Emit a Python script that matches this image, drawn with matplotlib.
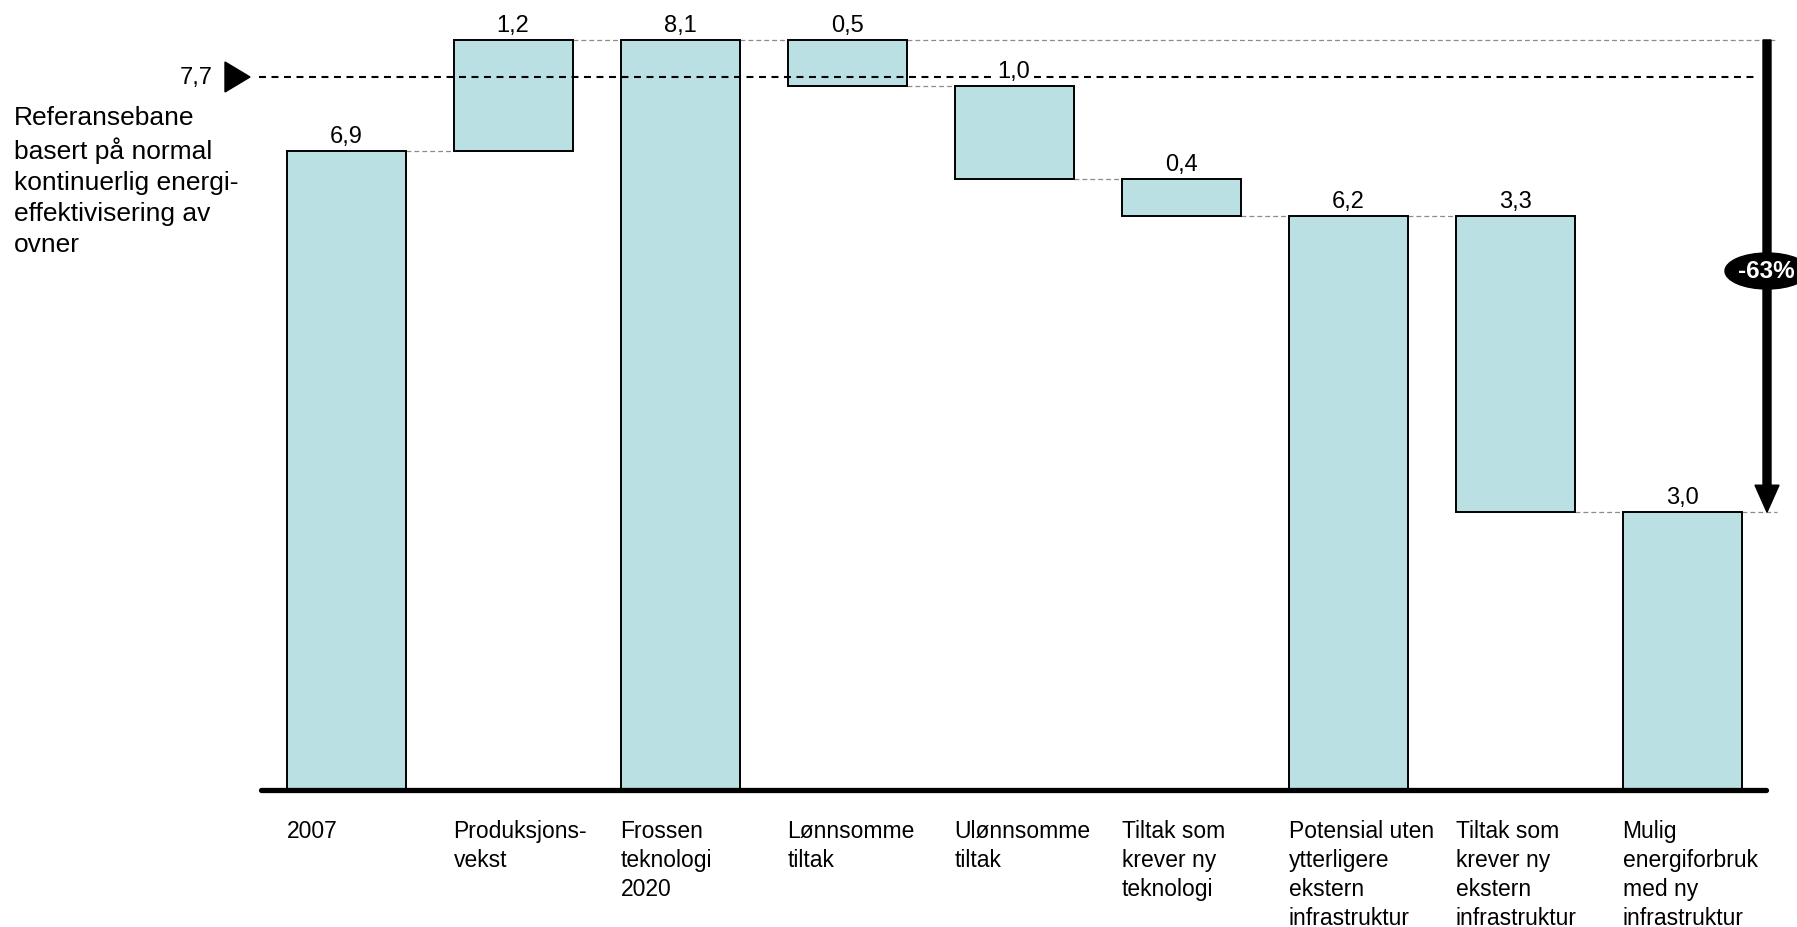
import matplotlib
matplotlib.use("Agg")
import matplotlib.pyplot as plt
from matplotlib import font_manager
from matplotlib.patches import Rectangle, Ellipse, Polygon, FancyArrow

# ---------------- data ----------------
categories = ["2007", "Produksjons-\nvekst", "Frossen\nteknologi\n2020", "Lønnsomme\ntiltak",
              "Ulønnsomme\ntiltak", "Tiltak som\nkrever ny\nteknologi",
              "Potensial uten\nytterligere\nekstern\ninfrastruktur",
              "Tiltak som\nkrever ny\nekstern\ninfrastruktur",
              "Mulig\nenergiforbruk\nmed ny\ninfrastruktur"]
values = [6.9, 1.2, 8.1, 0.5, 1.0, 0.4, 6.2, 3.3, 3.0]
kinds = ["total", "up", "total", "down", "down", "down", "total", "down", "total"]
value_labels = ["6,9", "1,2", "8,1", "0,5", "1,0", "0,4", "6,2", "3,3", "3,0"]
reference_value = 7.7
reference_label = "7,7"
reference_text = "Referansebane\nbasert på normal\nkontinuerlig energi-\neffektivisering av\novner"
change_label = "-63%"

# ---------------- fonts ----------------
names = {f.name for f in font_manager.fontManager.ttflist}
main_font = "Liberation Sans" if "Liberation Sans" in names else "DejaVu Sans"
plt.rcParams["font.family"] = [main_font, "DejaVu Sans"]
plt.rcParams["lines.scale_dashes"] = False

W, H = 1797, 928
fig = plt.figure(figsize=(W / 100, H / 100), dpi=100)
ax = fig.add_axes([0, 0, 1, 1])
ax.set_axis_off()

# pixel layout mapping
x0_px, dx_px = 346, 167
base_px, unit_px = 791, 92.6
ax.set_xlim(-x0_px / dx_px, (W - x0_px) / dx_px)
ax.set_ylim((base_px - H) / unit_px, base_px / unit_px)

bar_w = 119 / dx_px
fill = "#bbe0e3"

# compute bar spans
spans = []
level = 0.0
for i, (v, k) in enumerate(zip(values, kinds)):
    if k == "total":
        lo, hi = 0.0, v
        level = v
    elif k == "up":
        lo, hi = level, level + v
        level = level + v
        if i + 1 < len(kinds) and kinds[i + 1] == "total":
            hi = values[i + 1]; level = hi
    else:
        new = level - v
        if i + 1 < len(kinds) and kinds[i + 1] == "total":
            new = values[i + 1]
        lo, hi = new, level
        level = new
    spans.append((lo, hi, level))

# bars
for i, (lo, hi, end) in enumerate(spans):
    ax.add_patch(Rectangle((i - bar_w / 2, lo), bar_w, hi - lo, facecolor=fill,
                           edgecolor="black", linewidth=1.4, zorder=3))

# grey connectors
grey = "#8c8c8c"
for i in range(len(spans) - 1):
    end = spans[i][2]
    ax.plot([i + bar_w / 2, i + 1 - bar_w / 2], [end, end], color=grey, lw=0.9,
            dashes=(3.5, 2.2), zorder=2)

arrow_x = (1767 - x0_px) / dx_px
line_end = (1777 - x0_px) / dx_px
top_val = max(hi for lo, hi, e in spans)
final_val = values[-1]
ax.plot([3 + bar_w / 2, line_end], [top_val, top_val], color=grey, lw=0.9, dashes=(3.5, 2.2), zorder=2)
ax.plot([len(values) - 1 + bar_w / 2, line_end], [final_val, final_val], color=grey, lw=0.9,
        dashes=(3.5, 2.2), zorder=2)

# value labels
for i, (lo, hi, end) in enumerate(spans):
    ax.text(i, hi + 9 / unit_px, value_labels[i], ha="center", va="baseline", fontsize=17,
            zorder=6, bbox=dict(facecolor="white", edgecolor="none", pad=1.0))

# reference dashed line
ax.plot([(259 - x0_px) / dx_px, (1759 - x0_px) / dx_px], [reference_value, reference_value],
        color="black", lw=1.5, dashes=(5, 4), zorder=5)
tri_l, tri_r = (225 - x0_px) / dx_px, (250 - x0_px) / dx_px
tri_h = 15 / unit_px
ax.add_patch(Polygon([[tri_l, reference_value + tri_h], [tri_r, reference_value],
                      [tri_l, reference_value - tri_h]], closed=True, facecolor="black",
                     edgecolor="black", zorder=5))
ax.text((213 - x0_px) / dx_px, reference_value, reference_label, ha="right", va="center", fontsize=17)
ax.text((14 - x0_px) / dx_px, (base_px - 106) / unit_px, reference_text, ha="left", va="top",
        fontsize=19, linespacing=1.36)

# x axis line
ax.plot([(261 - x0_px) / dx_px, (1766 - x0_px) / dx_px], [0, 0], color="black", lw=3.8,
        solid_capstyle="round", zorder=4)

# category labels
for i, c in enumerate(categories):
    ax.text(i - bar_w / 2, (base_px - 820) / unit_px, c, ha="left", va="top",
            fontsize=16.5, linespacing=1.33)

# big arrow
head_len = 27 / unit_px
ax.add_patch(FancyArrow(arrow_x, top_val, 0, final_val - top_val, width=8 / dx_px,
                        head_width=24 / dx_px, head_length=head_len, length_includes_head=True,
                        color="black", zorder=6))
ell_y = (base_px - 272) / unit_px
ax.add_patch(Ellipse((arrow_x, ell_y), 84 / dx_px, 36 / unit_px, facecolor="black",
                     edgecolor="black", zorder=7))
ax.text(arrow_x - 1 / dx_px, ell_y, change_label, ha="center", va="center", color="white",
        fontsize=17.5, fontweight="bold", zorder=8)

fig.savefig("out.png", dpi=100)
